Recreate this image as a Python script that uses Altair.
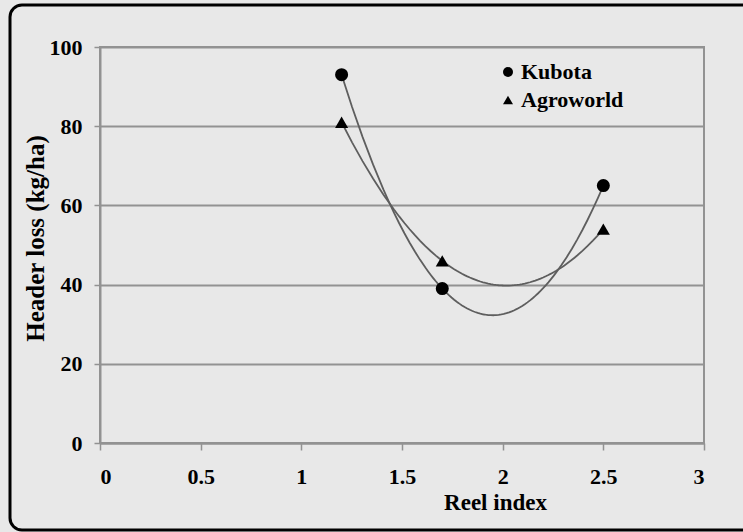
import altair as alt
import pandas as pd

reel_index = [1.2, 1.7, 2.5]
kubota = [93, 39, 65]
agroworld = [81, 46, 54]
series_names = ["Kubota", "Agroworld"]
x_ticks = [0, 0.5, 1, 1.5, 2, 2.5, 3]
y_ticks = [0, 20, 40, 60, 80, 100]

rows = []
for name, vals in zip(series_names, [kubota, agroworld]):
    for x, y in zip(reel_index, vals):
        rows.append({"series": name, "x": x, "y": y})
df = pd.DataFrame(rows)

FONT = "Liberation Serif"
GRID = "#929292"

xenc = alt.X("x:Q", scale=alt.Scale(domain=[0, 3], nice=False),
             axis=alt.Axis(values=x_ticks, format="~g", title="Reel index",
                           titleX=395, titleY=59, titleBaseline="middle",
                           titleAlign="center", titleFontSize=23,
                           grid=False, tickSize=7, labelPadding=16))
yenc = alt.Y("y:Q", scale=alt.Scale(domain=[0, 100], nice=False),
             axis=alt.Axis(values=y_ticks, title="Header loss (kg/ha)",
                           titleX=-65, titleY=191, titleBaseline="middle",
                           titleAlign="center", titleFontSize=25,
                           grid=True, tickSize=6, labelPadding=12))

frame = alt.Chart(pd.DataFrame({"a": [0]})).mark_rect(
    fill=None, stroke="black", strokeWidth=3, cornerRadius=12
).encode(
    x=alt.value(-90), x2=alt.value(660), y=alt.value(-42), y2=alt.value(483)
)

base = alt.Chart(df)

curves = base.transform_regression(
    "x", "y", groupby=["series"], method="poly", order=2, extent=[1.2, 2.5]
).mark_line(color="#5e5e5e", strokeWidth=1.8).encode(
    x=xenc, y=yenc, detail="series:N"
)

points = base.mark_point(filled=True, opacity=1, color="black", size=170).encode(
    x=xenc, y=yenc,
    shape=alt.Shape("series:N",
                    scale=alt.Scale(domain=series_names, range=["circle", "triangle-up"]),
                    legend=alt.Legend(title=None, orient="none", legendX=397, legendY=14,
                                      symbolFillColor="black", symbolStrokeColor="black",
                                      symbolSize=100, labelFont=FONT, labelFontSize=22,
                                      labelFontWeight="bold", labelColor="black",
                                      labelOffset=2, rowPadding=6))
)

chart = alt.layer(frame, curves, points).properties(
    width=604, height=396,
    autosize=alt.AutoSizeParams(type="none"),
    padding={"left": 100, "top": 47, "right": 39, "bottom": 89},
    background="#e8e8e8",
).configure_view(
    stroke=GRID, strokeWidth=2
).configure_axis(
    labelFont=FONT, labelFontSize=22, labelFontWeight="bold", labelColor="black",
    titleFont=FONT, titleFontWeight="bold", titleColor="black",
    domainColor=GRID, domainWidth=2, tickColor=GRID, tickWidth=1.5,
    gridColor=GRID, gridWidth=2, gridOpacity=1
)

chart.save("out.html", embed_options={"renderer": "svg", "actions": False})
